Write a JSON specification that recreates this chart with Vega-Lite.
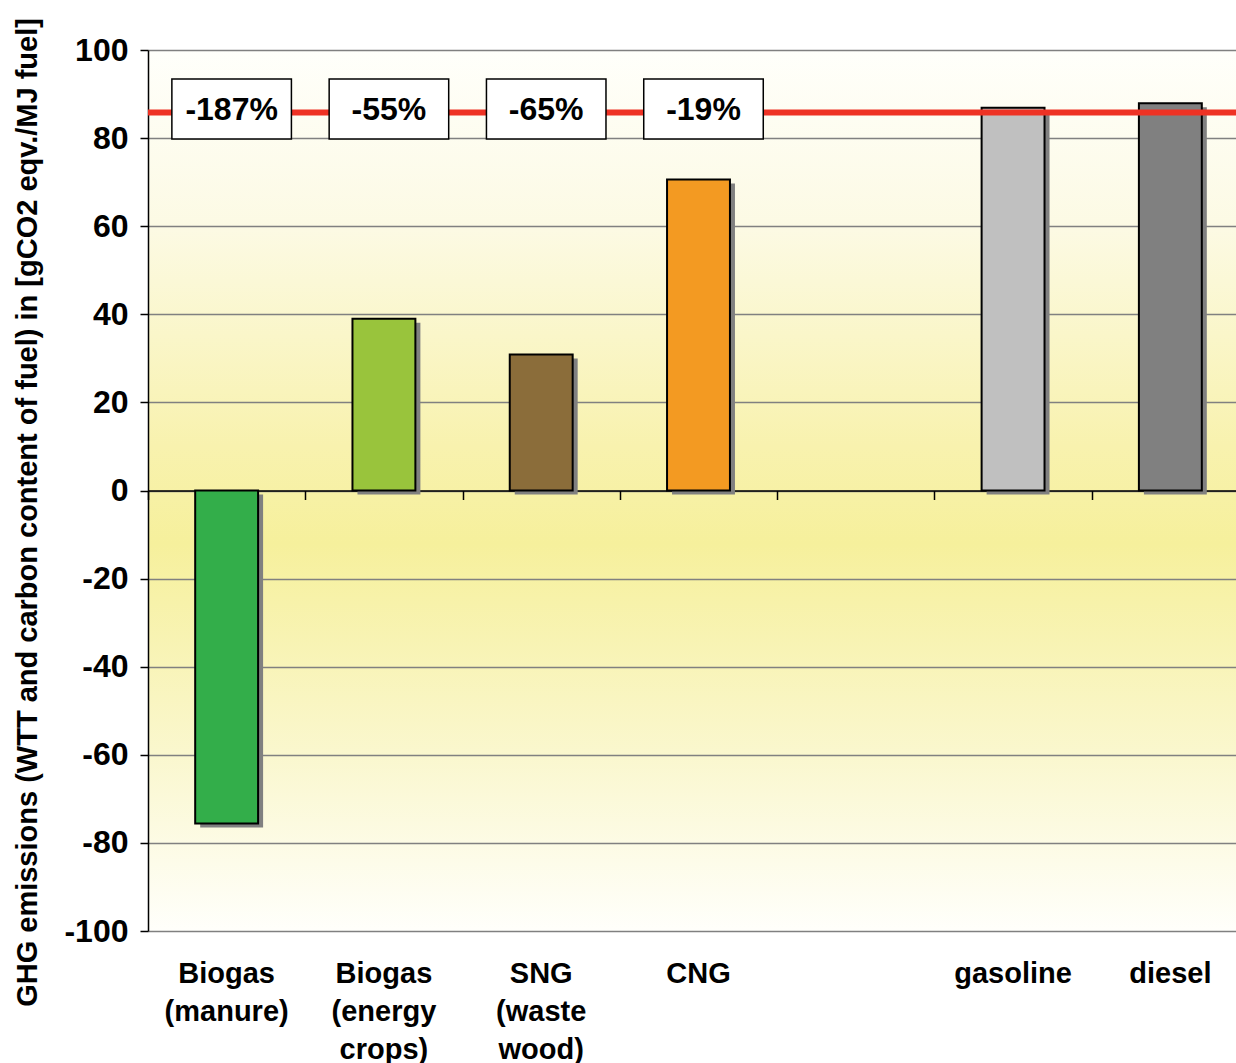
{
  "$schema": "https://vega.github.io/schema/vega-lite/v6.json",
  "width": 1088,
  "height": 881,
  "autosize": "none",
  "padding": {"left": 148, "top": 50, "right": 0, "bottom": 132},
  "background": "white",
  "config": {
    "font": "Liberation Sans",
    "view": {
      "stroke": null,
      "fill": {
        "gradient": "linear",
        "x1": 0, "y1": 0, "x2": 0, "y2": 1,
        "stops": [
          {"offset": 0, "color": "#FFFFFB"},
          {"offset": 0.2, "color": "#FCFAE4"},
          {"offset": 0.45, "color": "#F8F2AE"},
          {"offset": 0.56, "color": "#F6F09C"},
          {"offset": 0.8, "color": "#FAF7CE"},
          {"offset": 1, "color": "#FFFFFB"}
        ]
      }
    }
  },
  "datasets": {
    "fuels": [
      {"fuel": "Biogas (manure)", "value": -75.6},
      {"fuel": "Biogas (energy crops)", "value": 39.0},
      {"fuel": "SNG (waste wood)", "value": 30.9},
      {"fuel": "CNG", "value": 70.6},
      {"fuel": "gasoline", "value": 86.9},
      {"fuel": "diesel", "value": 87.9}
    ],
    "labels": [
      {"fuel": "Biogas (manure)", "reduction": "-187%"},
      {"fuel": "Biogas (energy crops)", "reduction": "-55%"},
      {"fuel": "SNG (waste wood)", "reduction": "-65%"},
      {"fuel": "CNG", "reduction": "-19%"}
    ],
    "reference": [
      {"level": 85.8}
    ]
  },
  "resolve": {"axis": {"x": "independent"}},
  "layer": [
    {
      "data": {"name": "fuels"},
      "mark": {"type": "bar", "color": "#808080", "xOffset": 5, "yOffset": 4, "width": {"band": 0.4}},
      "encoding": {
        "x": {
          "field": "fuel", "type": "nominal",
          "scale": {
            "domain": ["Biogas (manure)", "Biogas (energy crops)", "SNG (waste wood)", "CNG", "gap", "gasoline", "diesel"],
            "range": [0, 1101],
            "paddingInner": 0, "paddingOuter": 0
          },
          "axis": {
            "orient": "bottom", "title": null, "domain": false, "ticks": false, "grid": false,
            "labelAngle": 0, "labelFontSize": 29, "labelFontWeight": "bold", "labelColor": "black",
            "labelPadding": 28, "labelLineHeight": 38, "labelBaseline": "top",
            "labelExpr": "datum.value == 'gap' ? '' : split(datum.value, ' ')"
          }
        },
        "y": {
          "field": "value", "type": "quantitative",
          "scale": {"domain": [-100, 100], "nice": false, "zero": false},
          "axis": {
            "title": "GHG emissions (WTT and carbon content of fuel) in [gCO2 eqv./MJ fuel]",
            "values": [-100, -80, -60, -40, -20, 0, 20, 40, 60, 80, 100],
            "labelExpr": "toString(datum.value)",
            "domainColor": "black", "domainWidth": 1.5, "tickColor": "black", "tickSize": 8, "tickWidth": 1.5,
            "labelFontSize": 32, "labelFontWeight": "bold", "labelColor": "black", "labelPadding": 12,
            "grid": true, "gridColor": "#808080", "gridWidth": 1.5,
            "titleFontSize": 29, "titleFontWeight": "bold", "titleColor": "black", "titlePadding": 21, "titleY": 462
          }
        }
      }
    },
    {
      "data": {"name": "fuels"},
      "mark": {"type": "bar", "stroke": "black", "strokeWidth": 2, "width": {"band": 0.4}},
      "encoding": {
        "x": {"field": "fuel", "type": "nominal", "axis": null},
        "y": {"field": "value", "type": "quantitative", "title": "GHG emissions (WTT and carbon content of fuel) in [gCO2 eqv./MJ fuel]"},
        "color": {
          "field": "fuel", "type": "nominal", "legend": null,
          "scale": {
            "domain": ["Biogas (manure)", "Biogas (energy crops)", "SNG (waste wood)", "CNG", "gasoline", "diesel"],
            "range": ["#33AE4A", "#99C43C", "#8B6D3A", "#F39A22", "#C0C0C0", "#808080"]
          }
        }
      }
    },
    {
      "data": {"name": "labels"},
      "mark": {"type": "tick", "opacity": 0},
      "encoding": {
        "x": {
          "field": "fuel", "type": "nominal",
          "axis": {
            "orient": "top", "offset": -440.5, "title": null, "labels": false, "grid": false,
            "domain": true, "domainColor": "black", "domainWidth": 1.5,
            "ticks": true, "tickBand": "extent", "tickSize": -9, "tickColor": "black", "tickWidth": 1.5
          }
        },
        "y": {"datum": 0, "type": "quantitative", "title": "GHG emissions (WTT and carbon content of fuel) in [gCO2 eqv./MJ fuel]"}
      }
    },
    {
      "data": {"name": "reference"},
      "mark": {"type": "rule", "color": "#EE3224", "strokeWidth": 6},
      "encoding": {
        "y": {"field": "level", "type": "quantitative", "title": "GHG emissions (WTT and carbon content of fuel) in [gCO2 eqv./MJ fuel]"}
      }
    },
    {
      "data": {"name": "labels"},
      "mark": {"type": "bar", "fill": "white", "stroke": "black", "strokeWidth": 1.5, "width": {"band": 0.76}, "xOffset": 5},
      "encoding": {
        "x": {"field": "fuel", "type": "nominal", "axis": null},
        "y": {"datum": 79.8, "type": "quantitative", "title": "GHG emissions (WTT and carbon content of fuel) in [gCO2 eqv./MJ fuel]"},
        "y2": {"datum": 93.4}
      }
    },
    {
      "data": {"name": "labels"},
      "mark": {"type": "text", "fontSize": 32, "fontWeight": "bold", "color": "black", "xOffset": 5, "baseline": "middle"},
      "encoding": {
        "x": {"field": "fuel", "type": "nominal", "axis": null},
        "y": {"datum": 86.4, "type": "quantitative", "title": "GHG emissions (WTT and carbon content of fuel) in [gCO2 eqv./MJ fuel]"},
        "text": {"field": "reduction"}
      }
    }
  ]
}
